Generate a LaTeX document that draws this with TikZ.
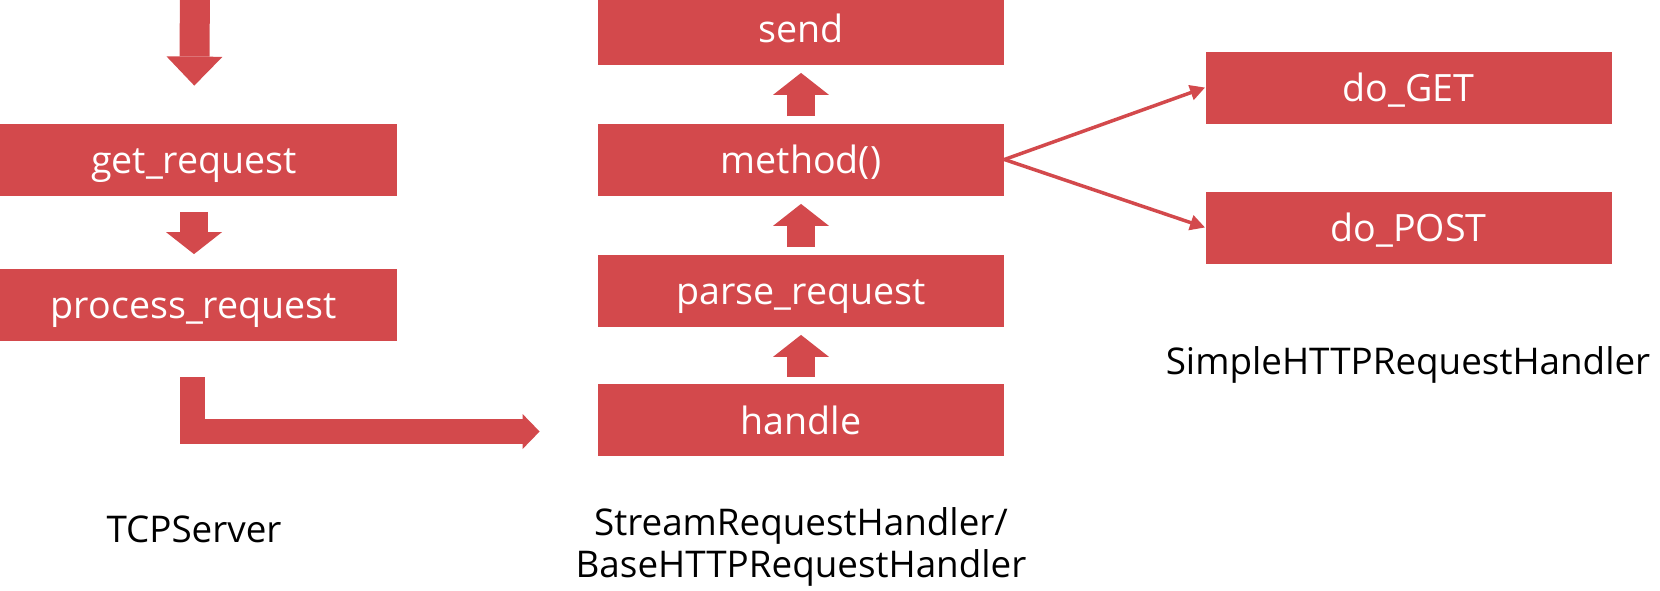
\documentclass[tikz,border=0pt]{standalone}
\usepackage{fontspec}
\setmainfont{Open Sans}
\usetikzlibrary{arrows.meta}
\definecolor{boxred}{RGB}{211,73,76}

\begin{document}
\begin{tikzpicture}[x=0.5pt,y=-0.5pt,
    box/.style={fill=boxred,text=white,minimum width=203pt,minimum height=36pt,inner sep=0pt,
        text height=14.4pt,text depth=0pt,font=\fontsize{18.8}{23}\selectfont},
    caption/.style={align=center,font=\fontsize{18.4}{21}\selectfont},
    fat/.style={draw=boxred,line width=14pt,-{Triangle[length=11pt,width=28pt,line width=0pt]}},
    branch/.style={draw=boxred,line width=1.75pt,-{Triangle[length=7.5pt,width=7.5pt]}}]
    \useasboundingbox (0,0) rectangle (1660,590);

    % TCPServer
    \node[box] (get) at (194,159.5) {get\_request};
    \node[box] (process) at (194,304.5) {process\_request};
    \coordinate (in) at (195,-10);

    % StreamRequestHandler / BaseHTTPRequestHandler
    \node[box] (send) at (801,28.5) {send};
    \node[box] (method) at (801,159.5) {method()};
    \node[box] (parse) at (801,290.5) {parse\_request};
    \node[box] (handle) at (801,420) {handle};

    % SimpleHTTPRequestHandler
    \node[box] (doget) at (1408.5,87.5) {do\_GET};
    \node[box] (dopost) at (1408.5,227.5) {do\_POST};

    \node[caption] (tcp) at (194,529) {TCPServer};
    \node[caption] (stream) at (801,547) {StreamRequestHandler/\\BaseHTTPRequestHandler};
    \node[caption] (simple) at (1408,365) {SimpleHTTPRequestHandler};

    \draw[fat,line width=15pt,-{Triangle[length=14.5pt,width=28pt,line width=0pt]},shorten >=18.75pt] (in) -- (get.north);
    \draw[fat,shorten <=8pt,shorten >=7pt] (get.south) -- (process.north);
    \draw[fat,line width=12.5pt,-{Triangle[length=8.5pt,width=17.5pt,line width=0pt]}]
        ([xshift=-1pt,yshift=-18.25pt]process.south) |- ([xshift=-29pt,yshift=-5.75pt]handle.west);

    \draw[fat,shorten <=3.5pt,shorten >=4pt] (handle.north) -- (parse.south);
    \draw[fat,shorten <=3.5pt,shorten >=4pt] (parse.north) -- (method.south);
    \draw[fat,shorten <=3.5pt,shorten >=4pt] (method.north) -- (send.south);

    \draw[branch] (method.east) -- (doget.west);
    \draw[branch] (method.east) -- (dopost.west);

\end{tikzpicture}
\end{document}
